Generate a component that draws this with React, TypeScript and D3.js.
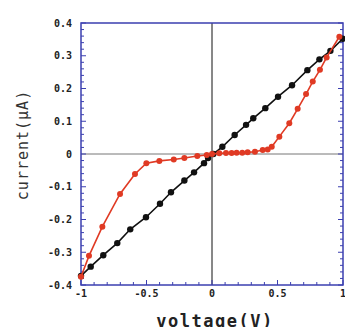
import React from 'react';
import * as d3 from 'd3';

const blackV = [-1, -0.926, -0.83, -0.723, -0.624, -0.504, -0.397, -0.313, -0.211, -0.137, -0.061, -0.03, 0.01, 0.079, 0.173, 0.26, 0.315, 0.407, 0.504, 0.611, 0.728, 0.82, 0.904, 0.998];
const blackI = [-0.372, -0.344, -0.309, -0.272, -0.23, -0.193, -0.152, -0.117, -0.081, -0.056, -0.028, -0.012, 0, 0.022, 0.058, 0.089, 0.109, 0.14, 0.175, 0.21, 0.256, 0.289, 0.315, 0.352];

const redV = [-1, -0.939, -0.837, -0.702, -0.588, -0.501, -0.402, -0.292, -0.211, -0.112, -0.04, 0.0, 0.056, 0.107, 0.15, 0.188, 0.231, 0.272, 0.328, 0.387, 0.425, 0.456, 0.514, 0.59, 0.654, 0.718, 0.769, 0.824, 0.875, 0.972];
const redI = [-0.375, -0.311, -0.222, -0.122, -0.061, -0.028, -0.021, -0.017, -0.012, -0.006, -0.003, 0, 0.002, 0.003, 0.003, 0.004, 0.004, 0.005, 0.007, 0.012, 0.014, 0.022, 0.053, 0.094, 0.138, 0.183, 0.221, 0.257, 0.295, 0.358];

const xTicks = [-1, -0.5, 0, 0.5, 1];
const yTicks = [0.4, 0.3, 0.2, 0.1, 0, -0.1, -0.2, -0.3, -0.4];

const W = 345, H = 327;
const left = 81, right = 343, top = 23, bottom = 285;
const frame = '#3b3fb0';

const App = () => {
  const x = d3.scaleLinear().domain([-1, 1]).range([left, right]);
  const y = d3.scaleLinear().domain([-0.4, 0.4]).range([bottom, top]);
  const line = d3.line<[number, number]>().x(d => x(d[0])).y(d => y(d[1]));

  const black = blackV.map((v, i) => [v, blackI[i]] as [number, number]);
  const red = redV.map((v, i) => [v, redI[i]] as [number, number]);

  const yMinor = d3.range(-0.4, 0.4001, 0.02);
  const xMinor = d3.range(-1, 1.0001, 0.1);
  const mono = "'DejaVu Sans Mono', monospace";

  const fmt = (v: number) => (v === 0 ? '0' : (Math.round(v * 10) / 10).toString());

  return (
    <svg width={W} height={H} style={{ position: 'absolute', left: 0, top: 0, background: '#fff' }}>
      {/* zero lines */}
      <line x1={left} x2={right} y1={y(0)} y2={y(0)} stroke="#777" strokeWidth={1} />
      <line x1={x(0)} x2={x(0)} y1={top} y2={bottom} stroke="#111" strokeWidth={1} />

      {/* minor / major ticks, left and right */}
      {yMinor.map((v, i) => {
        const major = i % 5 === 0;
        const len = major ? 5 : 3;
        return (
          <g key={'yt' + i} stroke={frame} strokeWidth={1}>
            <line x1={left} x2={left + len} y1={y(v)} y2={y(v)} />
            <line x1={right} x2={right - len} y1={y(v)} y2={y(v)} />
          </g>
        );
      })}
      {xMinor.map((v, i) => {
        const major = i % 5 === 0;
        const len = major ? 5 : 3;
        return (
          <line key={'xt' + i} x1={x(v)} x2={x(v)} y1={bottom} y2={bottom - len} stroke={frame} strokeWidth={1} />
        );
      })}

      {/* frame */}
      <rect x={left} y={top} width={right - left} height={bottom - top} fill="none" stroke={frame} strokeWidth={1.5} />

      {/* series */}
      <path d={line(black) || ''} fill="none" stroke="#111" strokeWidth={1.6} />
      {black.map((d, i) => (
        <circle key={'b' + i} cx={x(d[0])} cy={y(d[1])} r={3.2} fill="#111" />
      ))}
      <path d={line(red) || ''} fill="none" stroke="#e03a24" strokeWidth={1.6} />
      {red.map((d, i) => (
        <circle key={'r' + i} cx={x(d[0])} cy={y(d[1])} r={3} fill="#e03a24" />
      ))}

      {/* tick labels */}
      {yTicks.map(v => (
        <text key={'yl' + v} x={72} y={y(v) + 3.5} textAnchor="end" fontSize={10} fontWeight="bold"
          fontFamily={mono} fill="#222">{fmt(v)}</text>
      ))}
      {xTicks.map(v => (
        <text key={'xl' + v} x={x(v)} y={297} textAnchor="middle" fontSize={10} fontWeight="bold"
          fontFamily={mono} fill="#222">{fmt(v)}</text>
      ))}

      {/* axis titles */}
      <text transform={`translate(28,145) rotate(-90)`} textAnchor="middle" fontSize={15}
        fontFamily={mono} fill="#333" letterSpacing={1}>current(μA)</text>
      <text x={x(0) + 3} y={327} textAnchor="middle" fontSize={17} fontWeight="bold"
        fontFamily={mono} fill="#222" letterSpacing={1.5}>voltage(V)</text>
    </svg>
  );
};

export default App;
